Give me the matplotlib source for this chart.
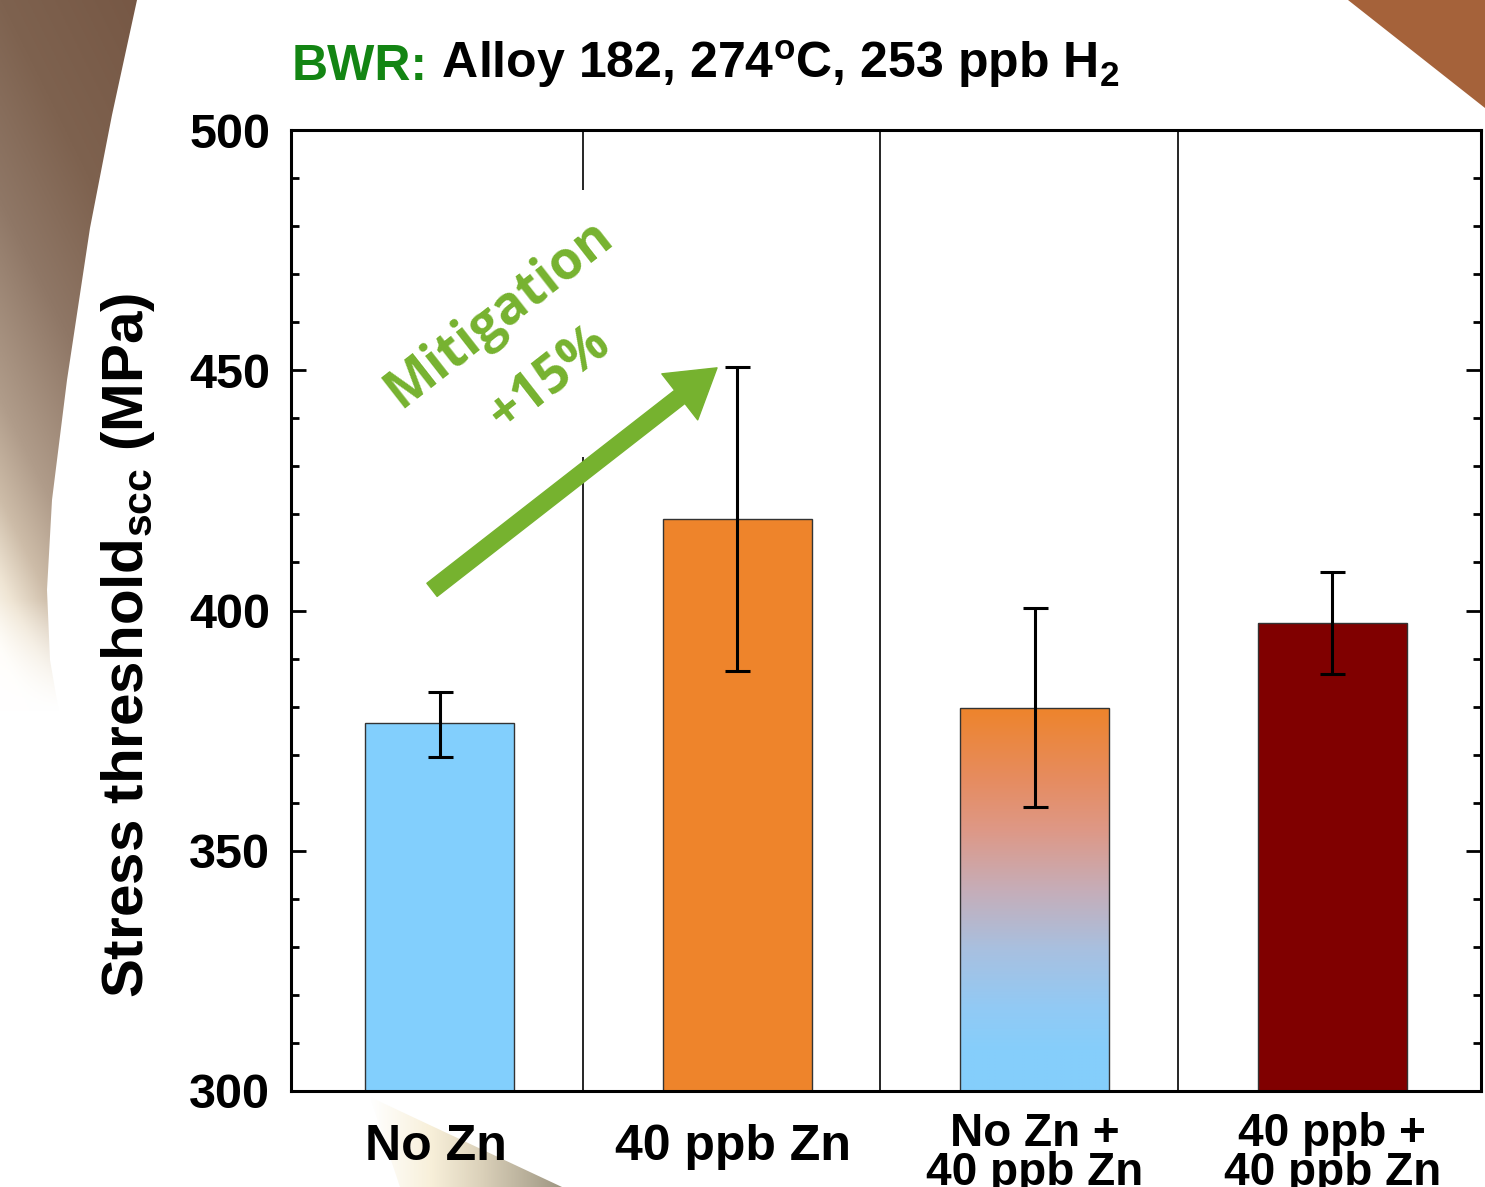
import matplotlib
matplotlib.use("Agg")
import matplotlib.pyplot as plt
import numpy as np
from matplotlib.colors import LinearSegmentedColormap, to_rgb
from matplotlib.patches import Polygon
from matplotlib.ticker import MultipleLocator
from matplotlib.transforms import ScaledTranslation

plt.rcParams['font.family'] = ['Liberation Sans', 'DejaVu Sans']
plt.rcParams['font.weight'] = 'bold'
plt.rcParams['mathtext.fontset'] = 'custom'
plt.rcParams['mathtext.rm'] = 'Liberation Sans:bold'
plt.rcParams['mathtext.bf'] = 'Liberation Sans:bold'
plt.rcParams['mathtext.default'] = 'bf'

# data
categories = ['No Zn', '40 ppb Zn', 'No Zn +\n40 ppb Zn', '40 ppb +\n40 ppb Zn']
threshold = [376.5, 419.0, 379.8, 397.3]
err_hi = [383.0, 450.7, 400.5, 408.0]
err_lo = [369.6, 387.5, 359.2, 386.7]
bar_colors = ['#82CFFD', '#EE842B', None, '#800000']

# gradient stops for the mixed bar (bottom -> top)
grad_stops = [(0.0, '#84CEFC'), (0.107, '#86CEFB'), (0.211, '#91CAF5'),
              (0.368, '#A8C0E0'), (0.525, '#C6ADB8'), (0.681, '#DE9886'),
              (0.812, '#E68C60'), (1.0, '#EE842B')]

green = '#76B22F'

W, H = 1485, 1187
fig = plt.figure(figsize=(W / 100, H / 100), dpi=100)

# background decoration
bg = fig.add_axes([0, 0, 1, 1], zorder=-10)
bg.set_xlim(0, W)
bg.set_ylim(H, 0)
bg.axis('off')

left_pts = [(0, 0), (137, 0), (112, 115), (90, 228), (67, 380), (52, 500),
            (47, 590), (50, 660), (62, 730), (80, 800), (0, 800)]
left_poly = Polygon(left_pts, closed=True, facecolor='none', edgecolor='none')
bg.add_patch(left_poly)
gx, gy = np.meshgrid(np.linspace(0, 140, 80), np.linspace(0, 800, 400))
d = gy - 2.0 * gx
stops_d = [-300, 0, 200, 400, 500, 580, 650, 720]
stops_c = [to_rgb(c) for c in ['#765744', '#7E624F', '#8F7766', '#B09C8A',
                               '#CDBCA8', '#EFE5D4', '#FFFCF5', '#FFFFFF']]
img = np.stack([np.interp(d, stops_d, [c[i] for c in stops_c]) for i in range(3)], axis=-1)
fade = np.clip((gy - 600) / 110, 0, 1)[..., None]
img = img * (1 - fade) + fade
im = bg.imshow(img, extent=(0, 140, 800, 0), aspect='auto', zorder=1)
im.set_clip_path(left_poly)

bg.add_patch(Polygon([(1348, 0), (W, 0), (W, 108)], closed=True,
                     facecolor='#A5623A', edgecolor='none'))

wedge = Polygon([(370, 1097), (562, H), (400, H)], closed=True,
                facecolor='none', edgecolor='none')
bg.add_patch(wedge)
xs = np.linspace(370, 562, 100)
wc = np.array([np.interp(xs, [370, 430, 480, 562],
                         [c[i] for c in [to_rgb('#FFFFFF'), to_rgb('#F8F0DA'),
                                         to_rgb('#DCD2BB'), to_rgb('#9E9682')]])
               for i in range(3)]).T
wim = bg.imshow(np.repeat(wc[None, :, :], 5, axis=0), extent=(370, 562, H, 1097),
                aspect='auto', zorder=1)
wim.set_clip_path(wedge)

# main axes
ax = fig.add_axes([291 / W, 1 - 1091 / H, (1481 - 291) / W, (1091 - 130) / H])
ax.set_facecolor('white')
x = np.arange(len(categories))
bars = ax.bar(x, threshold, width=0.5, bottom=0,
              color=[c if c else 'none' for c in bar_colors],
              edgecolor='#333333', linewidth=1.0, zorder=2)

cmap = LinearSegmentedColormap.from_list('mix', grad_stops)
grad = np.linspace(0, 1, 256)[:, None]
gim = ax.imshow(grad, cmap=cmap, origin='lower', aspect='auto',
                extent=(x[2] - 0.25, x[2] + 0.25, 300, threshold[2]), zorder=1.5)
gim.set_clip_path(bars[2])

yerr = [np.array(threshold) - np.array(err_lo), np.array(err_hi) - np.array(threshold)]
ax.errorbar(x, threshold, yerr=yerr, fmt='none', ecolor='black',
            elinewidth=2.2, capsize=9, capthick=2.2, zorder=3)

# dividers between groups
div = x[:-1] + 0.48
ax.vlines(div[0], 300, 432, color='black', lw=1.2, zorder=1)
ax.vlines(div[0], 487.5, 500, color='black', lw=1.2, zorder=1)
ax.vlines(div[1:], 300, 500, color='black', lw=1.2, zorder=1)

ax.set_xlim(-0.5, 3.5)
ax.set_ylim(300, 500)
ax.yaxis.set_major_locator(MultipleLocator(50))
ax.yaxis.set_minor_locator(MultipleLocator(10))
ax.tick_params(axis='y', which='major', direction='in', length=11, width=2,
               left=True, right=True, labelsize=35, pad=15)
ax.tick_params(axis='y', which='minor', direction='in', length=6, width=2,
               left=True, right=True)
ax.tick_params(axis='x', which='both', length=0, labelsize=36, pad=24)
ax.set_xticks(x)
ax.set_xticklabels(categories, linespacing=0.85)
for i, lab in enumerate(ax.get_xticklabels()):
    if '\n' in categories[i]:
        lab.set_fontsize(33)
        lab.set_transform(lab.get_transform() + ScaledTranslation(0, 0.12, fig.dpi_scale_trans))
    else:
        lab.set_transform(lab.get_transform() + ScaledTranslation(-0.04, 0, fig.dpi_scale_trans))
for lab in ax.get_yticklabels() + ax.get_xticklabels():
    lab.set_fontweight('bold')
for s in ax.spines.values():
    s.set_linewidth(2.2)

# mitigation arrow and text
ax.annotate('', xy=(0.932, 450.5), xytext=(-0.026, 404.3),
            arrowprops=dict(arrowstyle='simple,head_length=1.7,head_width=2.1,tail_width=0.6',
                            mutation_scale=20, color=green, shrinkA=0, shrinkB=0),
            zorder=4)
ax.text(0.2, 461.8, 'Mitigation', rotation=38, rotation_mode='anchor',
        ha='center', va='center', color=green, fontsize=38, fontweight='bold',
        family=['Open Sans', 'DejaVu Sans'], zorder=4)
ax.text(0.371, 448.2, '+15%', rotation=38, rotation_mode='anchor',
        ha='center', va='center', color=green, fontsize=38, fontweight='bold',
        family=['Open Sans', 'DejaVu Sans'], zorder=4)

# axis label and title
fig.text(128 / W, 1 - 645 / H, r'Stress threshold$_{\mathbf{scc}}$ (MPa)',
         rotation=90, ha='center', va='center', fontsize=42, fontweight='bold')
t1 = fig.text(292 / W, 1 - 80 / H, 'BWR:', color='#138513', fontsize=36,
              fontweight='bold', ha='left', va='baseline')
fig.canvas.draw()
ax.annotate(r' Alloy 182, 274$^{\mathbf{o}}$C, 253 ppb H$_{\mathbf{2}}$',
            xy=(1, 0), xycoords=t1, va='bottom', ha='left',
            fontsize=36, fontweight='bold', color='black', annotation_clip=False)

fig.savefig('out.png', dpi=100)
